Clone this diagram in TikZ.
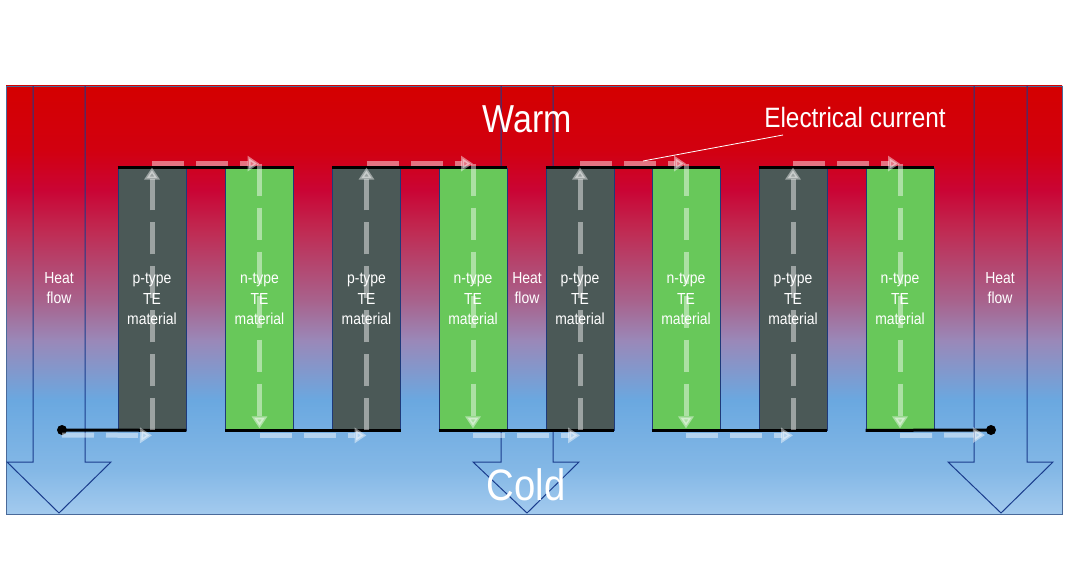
\documentclass[tikz,border=0pt]{standalone}
\usepackage{fontspec}
\setmainfont{Liberation Sans}[FakeStretch=0.87]
\usetikzlibrary{arrows.meta,calc}
\definecolor{c0}{HTML}{A3CAEE}
\definecolor{c1}{HTML}{84B8E6}
\definecolor{c2}{HTML}{6AA8E0}
\definecolor{c3}{HTML}{9A88B8}
\definecolor{c4}{HTML}{A8628C}
\definecolor{c5}{HTML}{C02A52}
\definecolor{c6}{HTML}{CA0434}
\definecolor{c7}{HTML}{D20010}
\definecolor{c8}{HTML}{D40000}
\definecolor{pcol}{HTML}{4B5957}
\definecolor{ncol}{HTML}{68C85A}
\definecolor{barline}{HTML}{1E3A7A}
\definecolor{heatcol}{HTML}{1A3C8C}
\definecolor{edgecol}{HTML}{4A6A9A}
\pgfdeclareverticalshading{bgshade}{100bp}{color(0bp)=(c0); color(25bp)=(c0); color(30.1bp)=(c1); color(38.3bp)=(c2); color(45.3bp)=(c3); color(50bp)=(c4); color(58.2bp)=(c5); color(62.9bp)=(c6); color(67.5bp)=(c7); color(75bp)=(c8); color(100bp)=(c8)}
\begin{document}
\begin{tikzpicture}[x=1pt,y=-1pt,
  pbar/.style={draw=barline,line width=0.8pt,fill=pcol,minimum width=68pt,minimum height=262pt,inner sep=0pt,text=white,align=center,font=\fontsize{16}{20.5}\selectfont},
  nbar/.style={pbar,fill=ncol},
  wire/.style={line width=3pt,black},
  cur/.style={draw=white,opacity=0.45,line width=5pt,dash pattern=on 32pt off 12pt,-{Triangle[length=12pt,width=15pt]}},
  heat/.style={draw=heatcol,line width=1pt},
  lbl/.style={text=white,inner sep=0pt,align=center}
]
\useasboundingbox (0,0) rectangle (1068,580);
% background
\shade[shading=bgshade] (6,86) rectangle (1062,514);
\draw[edgecol,line width=0.8pt] (6,86) rectangle (1062,514);
% heat flow arrows
\draw[heat] (33,86) -- (33,462) -- (7,462) -- (59,513) -- (111,462) -- (85,462) -- (85,86);
\draw[heat] (501,86) -- (501,462) -- (473,462) -- (527,513) -- (579,462) -- (553,462) -- (553,86);
\draw[heat] (974,86) -- (974,462) -- (948,462) -- (1001,513) -- (1053,462) -- (1027,462) -- (1027,86);
% bars
\node[pbar] (p1) at (152,299) {p-type\\TE\\material};
\node[nbar] (n2) at (259.5,299) {n-type\\TE\\material};
\node[pbar] (p3) at (366.5,299) {p-type\\TE\\material};
\node[nbar] (n4) at (473,299) {n-type\\TE\\material};
\node[pbar] (p5) at (580,299) {p-type\\TE\\material};
\node[nbar] (n6) at (686,299) {n-type\\TE\\material};
\node[pbar] (p7) at (793,299) {p-type\\TE\\material};
\node[nbar] (n8) at (900,299) {n-type\\TE\\material};
% terminals
\coordinate (tl) at (62,430);
\coordinate (tr) at (991,430);
% wires
\draw[wire] (p1.north west) -- (n2.north east);
\draw[wire] (p3.north west) -- (n4.north east);
\draw[wire] (p5.north west) -- (n6.north east);
\draw[wire] (p7.north west) -- (n8.north east);
\draw[wire] (tl) -- (p1.south east);
\draw[wire] (n2.south west) -- (p3.south east);
\draw[wire] (n4.south west) -- (p5.south east);
\draw[wire] (n6.south west) -- (p7.south east);
\draw[wire] (n8.south west) -- (tr);
\fill[black] (tl) circle (5pt);
\fill[black] (tr) circle (5pt);
% current arrows
\foreach \p/\n in {p1/n2,p3/n4,p5/n6,p7/n8}{
  \draw[cur] (\p.south) -- (\p.north);
  \draw[cur] ($(\p.north)+(0,-4)$) -- ($(\n.north)+(0,-4)$);
  \draw[cur] ($(\n.north)+(0,-4)$) -- ($(\n.south)+(0,-2)$);
}
\draw[cur] ($(tl)+(0,5)$) -- ($(p1.south)+(0,5)$);
\draw[cur] ($(n2.south)+(0,5)$) -- ($(p3.south)+(0,5)$);
\draw[cur] ($(n4.south)+(0,5)$) -- ($(p5.south)+(0,5)$);
\draw[cur] ($(n6.south)+(0,5)$) -- ($(p7.south)+(0,5)$);
\draw[cur] ($(n8.south)+(0,5)$) -- ($(tr)+(-6,5)$);
% labels
\node[lbl,font=\fontsize{39}{39}\selectfont] (warm) at (527,119) {Warm};
\node[lbl,font=\fontsize{44}{44}\selectfont] (cold) at (526,485) {Cold};
\node[lbl,font=\fontsize{28}{28}\selectfont] (elec) at (855,117) {Electrical current};
\coordinate (ea) at (783,135);
\coordinate (eb) at (643,161);
\draw[white,line width=0.8pt] (ea) -- (eb);
\node[lbl,font=\fontsize{16}{20.5}\selectfont] (h1) at (59,288) {Heat\\flow};
\node[lbl,font=\fontsize{16}{20.5}\selectfont] (h2) at (527,288) {Heat\\flow};
\node[lbl,font=\fontsize{16}{20.5}\selectfont] (h3) at (1000,288) {Heat\\flow};
\end{tikzpicture}
\end{document}
